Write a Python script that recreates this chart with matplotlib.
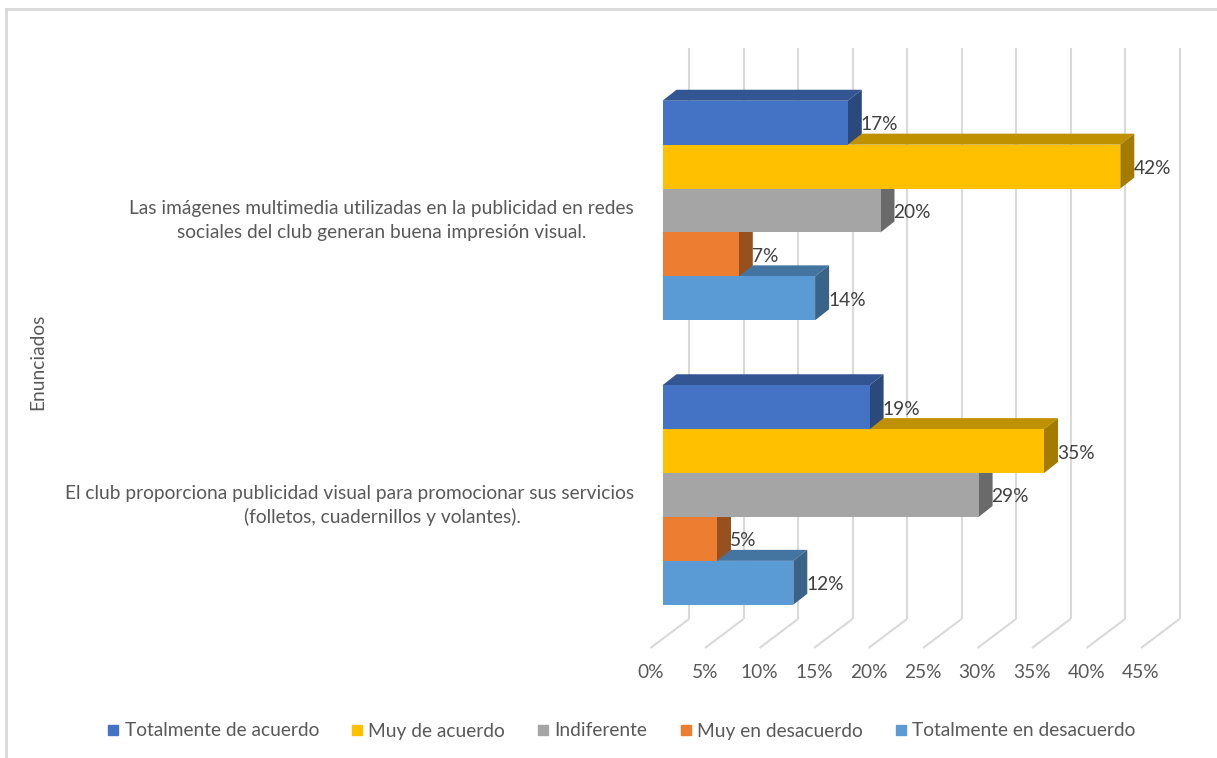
import matplotlib
matplotlib.use("Agg")
import matplotlib.pyplot as plt
from matplotlib.patches import Polygon
from matplotlib.lines import Line2D
import matplotlib.colors as mcolors

plt.rcParams['font.family'] = ['Lato', 'DejaVu Sans']

# ---------------- data ----------------
categories = [
    ["El club proporciona publicidad visual para promocionar sus servicios",
     "(folletos, cuadernillos y volantes)."],
    ["Las imágenes multimedia utilizadas en la publicidad en redes",
     "sociales del club generan buena impresión visual."],
]
series_names = ["Totalmente de acuerdo", "Muy de acuerdo", "Indiferente",
                "Muy en desacuerdo", "Totalmente en desacuerdo"]
series_colors = ["#4472C4", "#FFC000", "#A5A5A5", "#ED7D31", "#5B9BD5"]
# values (%) per series, for [category 0 (bottom), category 1 (top)]
totalmente_acuerdo = [19, 17]
muy_acuerdo = [35, 42]
indiferente = [29, 20]
muy_desacuerdo = [5, 7]
totalmente_desacuerdo = [12, 14]
values = [totalmente_acuerdo, muy_acuerdo, indiferente, muy_desacuerdo, totalmente_desacuerdo]
x_ticks = [0, 5, 10, 15, 20, 25, 30, 35, 40, 45]
x_tick_labels = ["0%", "5%", "10%", "15%", "20%", "25%", "30%", "35%", "40%", "45%"]
axis_title = "Enunciados"

# ---------------- layout ----------------
W, H = 1217, 758
DPI = 100
fig = plt.figure(figsize=(W / DPI, H / DPI), dpi=DPI)
ax = fig.add_axes([0, 0, 1, 1])

X0_PX = 662.5        # pixel of 0 % on the bar front plane
PX_PER_PCT = 10.9
Y0_PX = 495.0        # pixel of the bottom category centre
PX_PER_CAT = 284.5

ax.set_xlim((0 - X0_PX) / PX_PER_PCT, (W - X0_PX) / PX_PER_PCT)
ax.set_ylim((Y0_PX - H) / PX_PER_CAT, Y0_PX / PX_PER_CAT)
ax.axis("off")

def px_x(dpx):
    return dpx / PX_PER_PCT

def px_y(dpx):
    return dpx / PX_PER_CAT

def ypix(p):
    return (Y0_PX - p) / PX_PER_CAT

def xpix(p):
    return (p - X0_PX) / PX_PER_PCT

grid_col = "#D9D9D9"
text_col = "#595959"
label_col = "#404040"
FS = 13.8

# back-wall gridlines & floor lines
back_dx = px_x(26.5)
front_dx = px_x(-12)
floor_back_y = ypix(619)
floor_front_y = ypix(648)
grid_top_y = ypix(48)
for t in x_ticks:
    ax.plot([t + back_dx, t + back_dx], [floor_back_y, grid_top_y],
            color=grid_col, lw=1.5, zorder=1, solid_capstyle="butt")
    ax.plot([t + front_dx, t + back_dx], [floor_front_y, floor_back_y],
            color=grid_col, lw=1.5, zorder=1, solid_capstyle="butt")

for t, lab in zip(x_ticks, x_tick_labels):
    ax.text(t + front_dx, ypix(673), lab, ha="center", va="center",
            fontsize=FS, color=text_col)

# bars (3D look)
bar_h = px_y(43.9)
ddx = px_x(14)
ddy = px_y(11)
n = len(series_names)

def shade(c, f):
    r, g, b = mcolors.to_rgb(c)
    return (r * f, g * f, b * f)

z = 3
for ci in range(len(categories)):
    # draw from bottom series to top series so upper bars occlude lower tops
    for si in reversed(range(n)):
        v = values[si][ci]
        yc = ci + (2 - si) * bar_h
        y0 = yc - bar_h / 2
        y1 = yc + bar_h / 2
        col = series_colors[si]
        top = Polygon([(0, y1), (v, y1), (v + ddx, y1 + ddy), (ddx, y1 + ddy)],
                      closed=True, facecolor=shade(col, 0.75), edgecolor="none", zorder=z)
        side = Polygon([(v, y0), (v, y1), (v + ddx, y1 + ddy), (v + ddx, y0 + ddy)],
                       closed=True, facecolor=shade(col, 0.64), edgecolor="none", zorder=z)
        ax.add_patch(top)
        ax.add_patch(side)
        ax.barh(yc, v, height=bar_h, left=0, color=col, zorder=z + 0.5, linewidth=0)
        ax.text(v + ddx - px_x(1), yc - px_y(2), f"{v}%", ha="left", va="center",
                fontsize=FS, color=label_col, zorder=20)
        z += 1

# category labels
fig.canvas.draw()
renderer = fig.canvas.get_renderer()
cx = xpix(382)
right_lim_px = 634
line_gap = px_y(23.5)
for ci, lines in enumerate(categories):
    yc = ci - px_y(10)
    for li, line in enumerate(lines):
        yy = yc + line_gap * (0.5 - li)
        t = ax.text(cx, yy, line, ha="center", va="center", fontsize=FS, color=text_col)
        bb = t.get_window_extent(renderer)
        if bb.x1 > right_lim_px:
            t.set_ha("right")
            t.set_x(xpix(right_lim_px))

# axis title
ax.text(xpix(38), ypix(362), axis_title, rotation=90, ha="center", va="center",
        fontsize=FS, color=text_col)

# frame of chart area
ax.plot([xpix(6), xpix(6)], [ypix(9), ypix(H)], color=grid_col, lw=2, zorder=1)
ax.plot([xpix(6), xpix(W)], [ypix(9), ypix(9)], color=grid_col, lw=2, zorder=1)

# legend
handles = [Line2D([0], [0], marker="s", linestyle="none", markersize=7.5,
                  markerfacecolor=c, markeredgecolor=c) for c in series_colors]
fig.legend(handles, series_names, loc="center", ncol=5,
           bbox_to_anchor=(621.5 / W, 1 - 731 / H), frameon=False,
           fontsize=FS, labelcolor=text_col, handlelength=0.6,
           handletextpad=0.3, columnspacing=1.68)

fig.savefig("out.png", dpi=DPI)
